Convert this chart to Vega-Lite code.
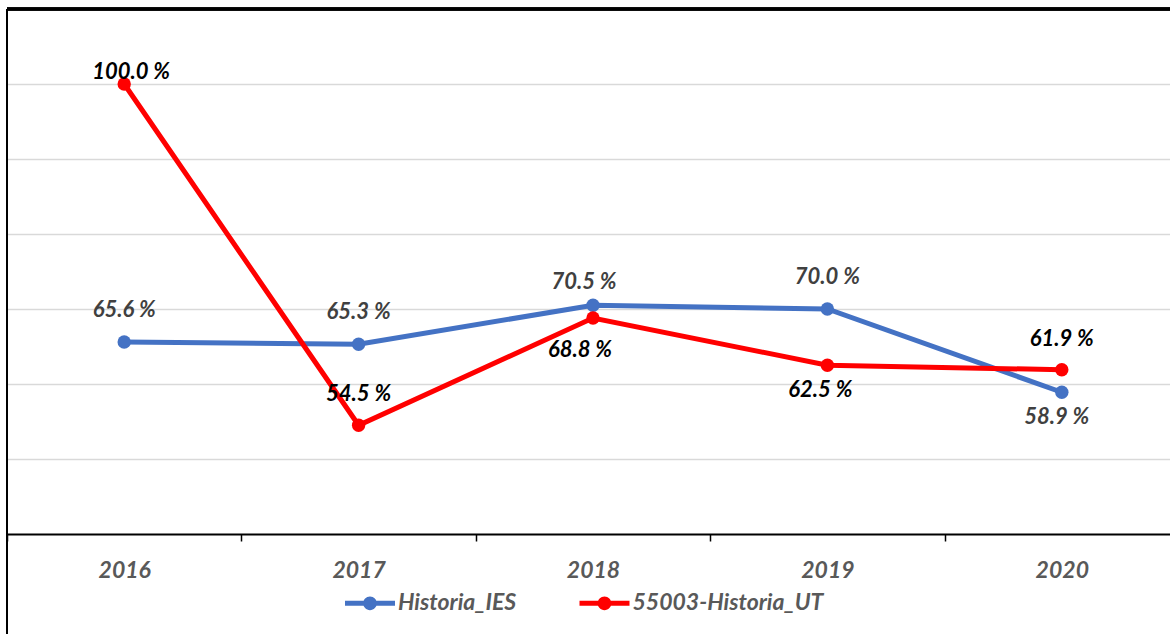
{
  "$schema": "https://vega.github.io/schema/vega-lite/v6.json",
  "width": 1163,
  "height": 525,
  "autosize": {"type": "none"},
  "padding": {"left": 7, "top": 9, "right": 0, "bottom": 100},
  "background": "white",
  "config": {
    "view": {"stroke": null},
    "font": "Lato"
  },
  "data": {
    "values": [
      {"year": "2016", "series": "Historia_IES", "value": 65.6},
      {"year": "2017", "series": "Historia_IES", "value": 65.3},
      {"year": "2018", "series": "Historia_IES", "value": 70.5},
      {"year": "2019", "series": "Historia_IES", "value": 70.0},
      {"year": "2020", "series": "Historia_IES", "value": 58.9},
      {"year": "2016", "series": "55003-Historia_UT", "value": 100.0},
      {"year": "2017", "series": "55003-Historia_UT", "value": 54.5},
      {"year": "2018", "series": "55003-Historia_UT", "value": 68.8},
      {"year": "2019", "series": "55003-Historia_UT", "value": 62.5},
      {"year": "2020", "series": "55003-Historia_UT", "value": 61.9}
    ]
  },
  "transform": [
    {"calculate": "format(datum.value, '.1f') + ' %'", "as": "label"}
  ],
  "layer": [
    {
      "mark": {"type": "rule", "color": "black", "strokeWidth": 2.5},
      "encoding": {"y": {"datum": 110, "type": "quantitative"}}
    },
    {
      "mark": {"type": "rule", "color": "black", "strokeWidth": 2},
      "encoding": {
        "x": {"datum": "2016", "type": "nominal", "bandPosition": 0},
        "y": {"datum": 110, "type": "quantitative"},
        "y2": {"datum": 26.6}
      }
    },
    {
      "encoding": {
        "x": {
          "field": "year", "type": "nominal",
          "scale": {"range": [0, 1172], "paddingInner": 0, "paddingOuter": 0},
          "axis": {
            "title": null, "labelAngle": 0, "labelAlign": "center", "tickBand": "extent",
            "domainColor": "black", "domainWidth": 2,
            "tickColor": "black", "tickWidth": 1.5, "tickSize": 7,
            "labelFont": "Lato", "labelFontSize": 23, "labelFontWeight": "bold", "labelFontStyle": "italic",
            "labelColor": "#595959", "labelBaseline": "middle", "labelPadding": 29
          }
        },
        "y": {
          "field": "value", "type": "quantitative",
          "scale": {"domain": [40, 110], "nice": false, "zero": false},
          "axis": {
            "title": null, "labels": false, "ticks": false, "domain": false,
            "values": [50, 60, 70, 80, 90, 100],
            "grid": true, "gridColor": "#d9d9d9", "gridWidth": 1.5
          }
        },
        "color": {
          "field": "series", "type": "nominal",
          "scale": {"domain": ["Historia_IES", "55003-Historia_UT"], "range": ["#4472C4", "#FF0000"]},
          "legend": {
            "title": null, "orient": "none", "direction": "horizontal",
            "legendX": 350.5, "legendY": 581.5, "padding": 0,
            "labelFont": "Lato", "labelFontSize": 23, "labelFontWeight": "bold", "labelFontStyle": "italic",
            "labelColor": "#595959", "labelOffset": 15.5, "columnPadding": 62.5, "labelLimit": 0,
            "symbolSize": 625,
            "symbolType": "M-2,-0.2H2V0.2H-2Z M-0.55,0A0.55,0.55 0 1,1 0.55,0A0.55,0.55 0 1,1 -0.55,0Z",
            "encode": {
              "symbols": {
                "update": {
                  "shape": {"value": "M-2,-0.2H2V0.2H-2Z M-0.55,0A0.55,0.55 0 1,1 0.55,0A0.55,0.55 0 1,1 -0.55,0Z"},
                  "size": {"value": 625},
                  "fill": {"scale": "color", "field": "value"},
                  "strokeWidth": {"value": 0},
                  "opacity": {"value": 1},
                  "fillOpacity": {"value": 1}
                }
              }
            }
          }
        }
      },
      "layer": [
        {"mark": {"type": "line", "strokeWidth": 5}},
        {"mark": {"type": "point", "shape": "circle", "filled": true, "size": 180, "opacity": 1}},
        {
          "transform": [{"filter": "datum.series == 'Historia_IES' && (datum.year == '2016' || datum.year == '2017' || datum.year == '2019')"}],
          "mark": {"type": "text", "dy": -32, "font": "Lato", "fontSize": 22, "fontWeight": "bold", "fontStyle": "italic"},
          "encoding": {"text": {"field": "label"}, "color": {"value": "#404040"}}
        },
        {
          "transform": [{"filter": "datum.series == 'Historia_IES' && datum.year == '2018'"}],
          "mark": {"type": "text", "dy": -23, "dx": -9, "font": "Lato", "fontSize": 22, "fontWeight": "bold", "fontStyle": "italic"},
          "encoding": {"text": {"field": "label"}, "color": {"value": "#404040"}}
        },
        {
          "transform": [{"filter": "datum.series == 'Historia_IES' && datum.year == '2020'"}],
          "mark": {"type": "text", "dy": 25, "dx": -5, "font": "Lato", "fontSize": 22, "fontWeight": "bold", "fontStyle": "italic"},
          "encoding": {"text": {"field": "label"}, "color": {"value": "#404040"}}
        },
        {
          "transform": [{"filter": "datum.series == '55003-Historia_UT' && datum.year == '2016'"}],
          "mark": {"type": "text", "dy": -12, "dx": 7, "font": "Lato", "fontSize": 22, "fontWeight": "bold", "fontStyle": "italic"},
          "encoding": {"text": {"field": "label"}, "color": {"value": "black"}}
        },
        {
          "transform": [{"filter": "datum.series == '55003-Historia_UT' && (datum.year == '2017' || datum.year == '2020')"}],
          "mark": {"type": "text", "dy": -31, "font": "Lato", "fontSize": 22, "fontWeight": "bold", "fontStyle": "italic"},
          "encoding": {"text": {"field": "label"}, "color": {"value": "black"}}
        },
        {
          "transform": [{"filter": "datum.series == '55003-Historia_UT' && datum.year == '2018'"}],
          "mark": {"type": "text", "dy": 32, "dx": -13, "font": "Lato", "fontSize": 22, "fontWeight": "bold", "fontStyle": "italic"},
          "encoding": {"text": {"field": "label"}, "color": {"value": "black"}}
        },
        {
          "transform": [{"filter": "datum.series == '55003-Historia_UT' && datum.year == '2019'"}],
          "mark": {"type": "text", "dy": 25, "dx": -7, "font": "Lato", "fontSize": 22, "fontWeight": "bold", "fontStyle": "italic"},
          "encoding": {"text": {"field": "label"}, "color": {"value": "black"}}
        }
      ]
    }
  ]
}
